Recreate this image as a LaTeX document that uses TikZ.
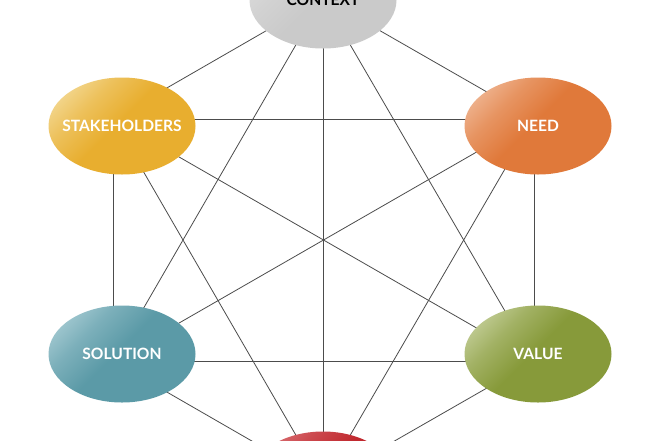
\documentclass[tikz,border=0pt]{standalone}
\usepackage{fontspec}
\setmainfont{Lato}
\usetikzlibrary{shapes.geometric}
\definecolor{linec}{HTML}{4C4C4C}
\definecolor{ctxB}{HTML}{CACACA}\definecolor{ctxL}{HTML}{DCDCDC}
\definecolor{stkB}{HTML}{E8AE2F}\definecolor{stkL}{HTML}{F3D892}
\definecolor{needB}{HTML}{E0793A}\definecolor{needL}{HTML}{EFB592}
\definecolor{solB}{HTML}{5B9AA7}\definecolor{solL}{HTML}{A3C9D1}
\definecolor{valB}{HTML}{879A3A}\definecolor{valL}{HTML}{C2CD96}
\definecolor{redB}{HTML}{C0282E}\definecolor{redL}{HTML}{DA7074}
\pgfdeclareverticalshading[hlbase,hllight]{highlight}{100bp}{%
  color(0bp)=(hlbase); color(52bp)=(hlbase); color(66bp)=(hllight!45!hlbase); color(78bp)=(hllight); color(100bp)=(hllight)}
\tikzset{
  bubble/.style n args={2}{ellipse, minimum width=147pt, minimum height=97pt, inner sep=0pt,
    /utils/exec={\colorlet{hlbase}{#1}\colorlet{hllight}{#2}},
    shading=highlight, shading angle=45},
  lbl/.style={font=\bfseries\fontsize{15.6}{15.6}\selectfont, text=white, inner sep=0pt},
  lbldark/.style={lbl, text=black},
  link/.style={draw=linec, line width=0.8pt}
}
\begin{document}
\begin{tikzpicture}[x=1pt,y=-1pt]
\useasboundingbox (0,0) rectangle (660,440);
\clip (0,0) rectangle (660,440);
\fill[white] (0,0) rectangle (660,440);
% hexagon vertices for connectors
\coordinate (vT) at (323,-2);
\coordinate (vUL) at (113,119);
\coordinate (vUR) at (534,119);
\coordinate (vLL) at (113,361);
\coordinate (vLR) at (534,361);
\coordinate (vB) at (323,482);
\foreach \a/\b in {vT/vUL,vT/vUR,vT/vLL,vT/vLR,vT/vB,
                   vUL/vUR,vUL/vLL,vUL/vLR,vUL/vB,
                   vUR/vLL,vUR/vLR,vUR/vB,
                   vLL/vLR,vLL/vB,vLR/vB}
  \draw[link] (\a) -- (\b);
% ellipses
\node[bubble={ctxB}{ctxL}, label={[lbldark]center:CONTEXT}] (context) at (323,0) {};
\node[bubble={stkB}{stkL}, label={[lbl]center:STAKEHOLDERS}] (stake) at (122,126) {};
\node[bubble={needB}{needL}, label={[lbl]center:NEED}] (need) at (538,126) {};
\node[bubble={solB}{solL}, label={[lbl]center:SOLUTION}] (solution) at (122,354) {};
\node[bubble={valB}{valL}, label={[lbl]center:VALUE}] (value) at (538,354) {};
\node[bubble={redB}{redL}] (bottom) at (323,480) {};
\end{tikzpicture}
\end{document}
